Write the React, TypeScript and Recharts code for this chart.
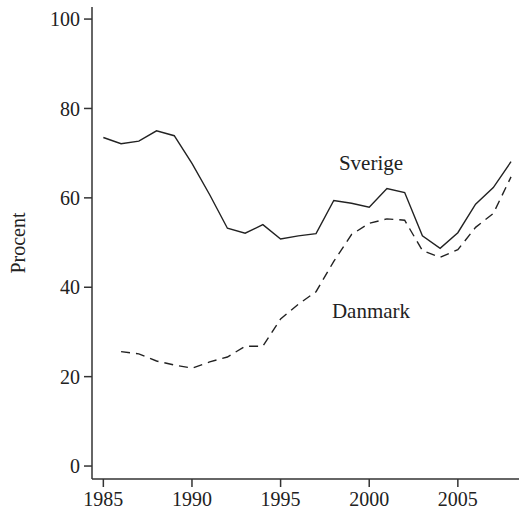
import React from 'react';
import { LineChart, Line, XAxis, YAxis } from 'recharts';

const years = [1985, 1986, 1987, 1988, 1989, 1990, 1991, 1992, 1993, 1994, 1995, 1996,
  1997, 1998, 1999, 2000, 2001, 2002, 2003, 2004, 2005, 2006, 2007, 2008];
const sverige = [73.5, 72.1, 72.7, 75.0, 73.9, 67.7, 60.7, 53.2, 52.1, 54.0, 50.8, 51.5,
  52.0, 59.4, 58.8, 57.9, 62.1, 61.2, 51.5, 48.7, 52.2, 58.6, 62.3, 68.1];
const danmark = [null, 25.6, 25.1, 23.5, 22.6, 21.9, 23.3, 24.4, 26.8, 26.8, 32.9, 36.2,
  39.0, 45.8, 51.8, 54.3, 55.3, 55.0, 48.2, 46.7, 48.4, 53.4, 56.5, 64.7];
const xTicks = [1985, 1990, 1995, 2000, 2005];
const yTicks = [0, 20, 40, 60, 80, 100];

const data = years.map((year, i) => ({ year, sverige: sverige[i], danmark: danmark[i] }));

const font = '"Liberation Serif", "DejaVu Serif", serif';
const ink = '#222';

const App: React.FC = () => {
  return (
    <div style={{ position: 'absolute', left: 0, top: 0, width: 519, height: 513 }}>
      <LineChart width={519} height={513} data={data} margin={{ top: 7, right: 0, bottom: 0, left: 0 }}>
        <XAxis
          dataKey="year"
          type="number"
          domain={[1984.36, 2008.45]}
          allowDataOverflow
          ticks={xTicks}
          height={34}
          tickSize={8}
          tickMargin={5}
          stroke="#333"
          strokeWidth={1.5}
          tick={{ fill: ink, fontSize: 20, fontFamily: font }}
        />
        <YAxis
          type="number"
          domain={[-2.9, 102.7]}
          allowDataOverflow
          ticks={yTicks}
          width={92}
          tickSize={8}
          tickMargin={4}
          stroke="#333"
          strokeWidth={1.5}
          tick={{ fill: ink, fontSize: 20, fontFamily: font }}
        />
        <Line dataKey="sverige" stroke={ink} strokeWidth={1.4} dot={false} isAnimationActive={false} />
        <Line dataKey="danmark" stroke={ink} strokeWidth={1.4} strokeDasharray="9 6" dot={false} isAnimationActive={false} />
      </LineChart>
      {/* labels drawn on top */}
      <svg width={519} height={513} style={{ position: 'absolute', left: 0, top: 0, pointerEvents: 'none' }}>
        <text x={18} y={243} transform="rotate(-90 18 243)" textAnchor="middle" dominantBaseline="central"
          fontSize={20} fontFamily={font} fill={ink}>Procent</text>
        <text x={371} y={170} textAnchor="middle" fontSize={21} fontFamily={font} fill={ink}>Sverige</text>
        <text x={371} y={318} textAnchor="middle" fontSize={21} fontFamily={font} fill={ink}>Danmark</text>
      </svg>
    </div>
  );
};

export default App;
